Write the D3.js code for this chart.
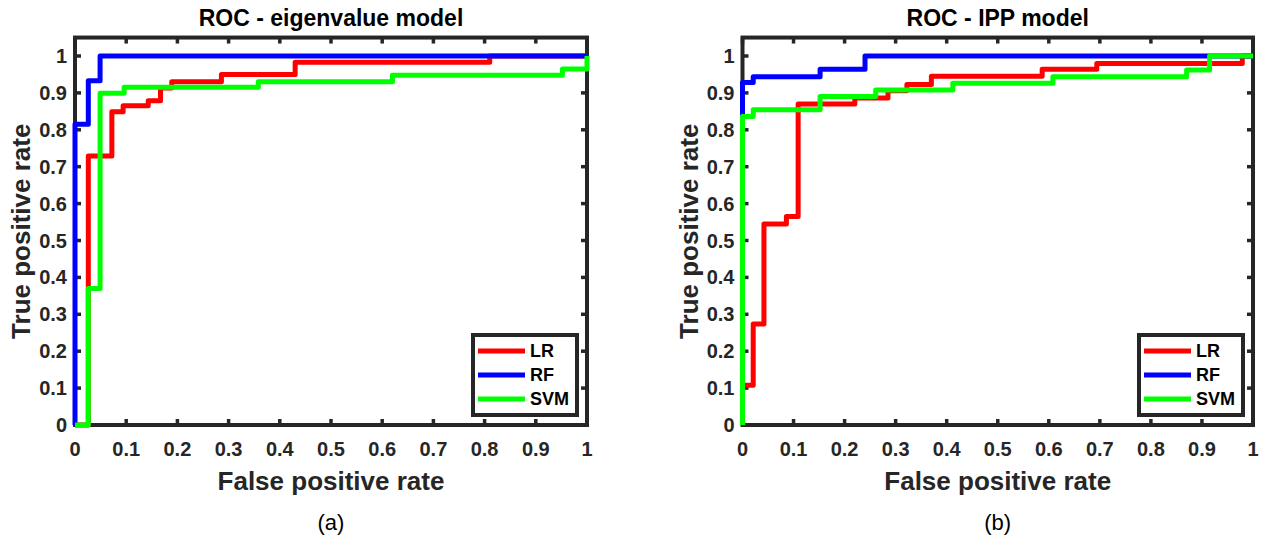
<!DOCTYPE html>
<html>
<head>
<meta charset="utf-8">
<script src="https://cdn.jsdelivr.net/npm/d3@7"></script>
<style>
html,body{margin:0;padding:0;background:#fff;}
svg{display:block;}
text{font-family:"Liberation Sans",Arial,Helvetica,sans-serif;}
</style>
</head>
<body>
<svg id="chart" width="1262" height="542"></svg>
<script>
// ---- Data ----
const tickValues = [0,0.1,0.2,0.3,0.4,0.5,0.6,0.7,0.8,0.9,1];
const tickLabels = ["0","0.1","0.2","0.3","0.4","0.5","0.6","0.7","0.8","0.9","1"];
const seriesNames = ["LR","RF","SVM"];
const seriesColors = ["#ff0000","#0000ff","#00ff00"];

// Panel (a): eigenvalue model
const lrEigFpr  = [0, 0.026, 0.072, 0.094, 0.143, 0.167, 0.189, 0.286, 0.43, 0.81, 1];
const lrEigTpr  = [0, 0.729, 0.849, 0.865, 0.879, 0.913, 0.93, 0.95, 0.983, 1, 1];
const rfEigFpr  = [0, 0, 0.026, 0.049, 1];
const rfEigTpr  = [0, 0.815, 0.933, 1, 1];
const svmEigFpr = [0, 0.026, 0.049, 0.096, 0.358, 0.62, 0.952, 1];
const svmEigTpr = [0, 0.37, 0.899, 0.915, 0.93, 0.948, 0.965, 1];

// Panel (b): IPP model
const lrIppFpr  = [0, 0, 0.021, 0.042, 0.086, 0.109, 0.22, 0.285, 0.322, 0.37, 0.587, 0.694, 0.979, 1];
const lrIppTpr  = [0, 0.108, 0.274, 0.545, 0.565, 0.870, 0.886, 0.906, 0.923, 0.945, 0.964, 0.98, 1, 1];
const rfIppFpr  = [0, 0, 0.021, 0.152, 0.24, 1];
const rfIppTpr  = [0, 0.928, 0.944, 0.964, 1, 1];
const svmIppFpr = [0, 0, 0.021, 0.152, 0.261, 0.412, 0.608, 0.87, 0.915, 1];
const svmIppTpr = [0, 0.836, 0.854, 0.89, 0.908, 0.926, 0.944, 0.962, 1, 1];

const panels = [
  {title:"ROC - eigenvalue model", caption:"(a)", x0:75, x1:587,
   series:[[lrEigFpr,lrEigTpr],[rfEigFpr,rfEigTpr],[svmEigFpr,svmEigTpr]]},
  {title:"ROC - IPP model", caption:"(b)", x0:742.5, x1:1253,
   series:[[lrIppFpr,lrIppTpr],[rfIppFpr,rfIppTpr],[svmIppFpr,svmIppTpr]]}
];

const svg = d3.select("#chart");
const axisColor = "#262626";
const yBottom = 425, yOne = 56;

panels.forEach(p => {
  const x = d3.scaleLinear().domain([0,1]).range([p.x0, p.x1]);
  const y = d3.scaleLinear().domain([0,1]).range([yBottom, yOne]);
  const yTop = y(1.05);
  const g = svg.append("g");

  const ax = g.append("g");
  const tl = 6;
  tickValues.forEach(v => {
    ax.append("line").attr("x1",x(v)).attr("x2",x(v)).attr("y1",yBottom).attr("y2",yBottom-tl)
      .attr("stroke",axisColor).attr("stroke-width",3.5);
    ax.append("line").attr("x1",x(v)).attr("x2",x(v)).attr("y1",yTop).attr("y2",yTop+tl)
      .attr("stroke",axisColor).attr("stroke-width",3.5);
    ax.append("line").attr("x1",p.x0).attr("x2",p.x0+tl).attr("y1",y(v)).attr("y2",y(v))
      .attr("stroke",axisColor).attr("stroke-width",3.5);
    ax.append("line").attr("x1",p.x1).attr("x2",p.x1-tl).attr("y1",y(v)).attr("y2",y(v))
      .attr("stroke",axisColor).attr("stroke-width",3.5);
  });
  ax.append("rect").attr("x",p.x0).attr("y",yTop).attr("width",p.x1-p.x0).attr("height",yBottom-yTop)
    .attr("fill","none").attr("stroke",axisColor).attr("stroke-width",4);

  tickValues.forEach((v,i) => {
    g.append("text").attr("x",x(v)).attr("y",yBottom+31).attr("text-anchor","middle")
      .attr("font-size",20).attr("font-weight","bold").attr("fill",axisColor).text(tickLabels[i]);
    g.append("text").attr("x",p.x0-8).attr("y",y(v)+7).attr("text-anchor","end")
      .attr("font-size",20).attr("font-weight","bold").attr("fill",axisColor).text(tickLabels[i]);
  });

  const line = d3.line().x(d=>x(d[0])).y(d=>y(d[1])).curve(d3.curveStepAfter);
  p.series.forEach((s,i) => {
    const pts = s[0].map((f,j)=>[f, s[1][j]]);
    g.append("path").attr("d", line(pts)).attr("fill","none")
      .attr("stroke", seriesColors[i]).attr("stroke-width",5).attr("stroke-linejoin","round");
  });

  const cx = (p.x0+p.x1)/2;
  g.append("text").attr("x",cx).attr("y",26).attr("text-anchor","middle")
    .attr("font-size",23).attr("font-weight","bold").attr("fill","#000").text(p.title);
  g.append("text").attr("x",cx).attr("y",490).attr("text-anchor","middle")
    .attr("font-size",26).attr("font-weight","bold").attr("fill",axisColor).text("False positive rate");
  g.append("text").attr("transform",`translate(${p.x0-45},${(yTop+yBottom)/2}) rotate(-90)`)
    .attr("text-anchor","middle")
    .attr("font-size",26).attr("font-weight","bold").attr("fill",axisColor).text("True positive rate");
  g.append("text").attr("x",cx).attr("y",530).attr("text-anchor","middle")
    .attr("font-size",22).attr("fill","#000").text(p.caption);

  const lx = p.x1 - 114, ly = 335, lw = 104, lh = 80;
  const lg = g.append("g");
  lg.append("rect").attr("x",lx).attr("y",ly).attr("width",lw).attr("height",lh)
    .attr("fill","#fff").attr("stroke",axisColor).attr("stroke-width",4);
  seriesNames.forEach((n,i) => {
    const ry = ly + 16 + i*24;
    lg.append("line").attr("x1",lx+5).attr("x2",lx+52).attr("y1",ry).attr("y2",ry)
      .attr("stroke",seriesColors[i]).attr("stroke-width",5);
    lg.append("text").attr("x",lx+57).attr("y",ry+6).attr("font-size",18).attr("font-weight","bold")
      .attr("fill","#000").text(n);
  });
});
</script>
</body>
</html>
